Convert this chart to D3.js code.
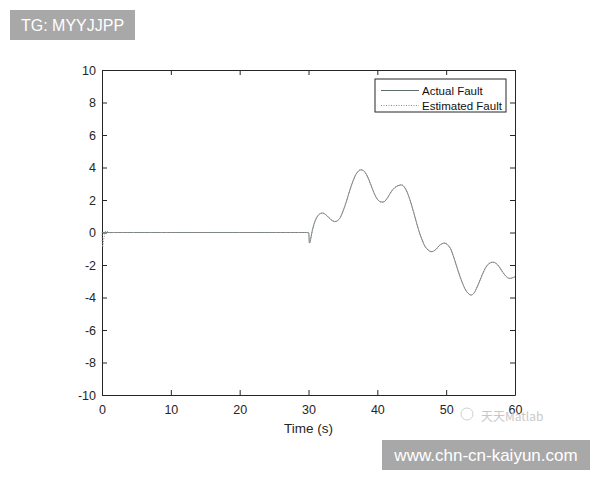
<!DOCTYPE html>
<html><head><meta charset="utf-8">
<script src="https://cdn.jsdelivr.net/npm/d3@7"></script>
<style>body{margin:0;background:#fff;}svg{display:block;font-family:"Liberation Sans",Arial,sans-serif;}</style>
</head><body>
<script>
// Data
const actualTime  = [0, 10, 20, 29.9, 30, 30.15, 30.6, 31, 31.5, 32, 32.5, 33, 33.5, 34, 34.5, 35, 35.5, 36, 36.5, 37, 37.5, 38, 38.5, 39, 39.5, 40, 40.5, 41, 41.5, 42, 42.5, 43, 43.6, 44, 44.5, 45, 45.5, 46, 46.5, 47, 47.8, 48.5, 49, 49.8, 50.5, 51, 51.5, 52, 52.5, 53, 53.6, 54, 54.5, 55, 55.5, 56, 56.5, 57, 57.5, 58, 58.5, 59, 59.4, 60];
const actualValue = [0, 0, 0, 0, 0, -0.65, 0.2, 0.75, 1.1, 1.2, 1.1, 0.9, 0.72, 0.68, 0.85, 1.3, 1.9, 2.6, 3.2, 3.65, 3.85, 3.8, 3.5, 3.0, 2.45, 2.05, 1.88, 1.9, 2.15, 2.5, 2.75, 2.88, 2.92, 2.75, 2.3, 1.65, 0.9, 0.15, -0.45, -0.9, -1.18, -1.05, -0.8, -0.65, -0.9, -1.4, -2.05, -2.7, -3.25, -3.65, -3.85, -3.75, -3.35, -2.85, -2.35, -2.0, -1.85, -1.84, -2.0, -2.3, -2.6, -2.8, -2.82, -2.72];
const estTime  = [0, 0.1, 0.3, 0.6, 1, 2, 10, 20, 29.9].concat(actualTime.slice(4));
const estValue = [0, -0.9, -0.3, 0.1, 0, 0, 0, 0, 0].concat(actualValue.slice(4));
const xTicks = [0, 10, 20, 30, 40, 50, 60];
const yTicks = [-10, -8, -6, -4, -2, 0, 2, 4, 6, 8, 10];
const seriesNames = ["Actual Fault", "Estimated Fault"];

const W = 600, H = 480;
const svg = d3.select("body").append("svg").attr("width", W).attr("height", H);
const m = {left: 102, top: 70, right: 515, bottom: 395};
const x = d3.scaleLinear().domain([0, 60]).range([m.left, m.right]);
const y = d3.scaleLinear().domain([-10, 10]).range([m.bottom, m.top]);

const axCol = "#262626";
const tk = 5;
const fmt = d => String(d);
function styleAxis(g){
  g.select(".domain").attr("stroke", axCol).attr("stroke-width", 1);
  g.selectAll(".tick line").attr("stroke", axCol);
  g.selectAll(".tick text").attr("fill", axCol).attr("font-size", 12.5);
}
// bottom
svg.append("g").attr("transform", `translate(0,${m.bottom})`)
  .call(d3.axisBottom(x).tickValues(xTicks).tickSizeInner(-tk).tickSizeOuter(0).tickPadding(10).tickFormat(fmt))
  .call(styleAxis).call(g=>g.selectAll(".tick text").attr("dy","0.71em"));
// top
svg.append("g").attr("transform", `translate(0,${m.top})`)
  .call(d3.axisTop(x).tickValues(xTicks).tickSizeInner(-tk).tickSizeOuter(0).tickFormat(""))
  .call(styleAxis);
// left
svg.append("g").attr("transform", `translate(${m.left},0)`)
  .call(d3.axisLeft(y).tickValues(yTicks).tickSizeInner(-tk).tickSizeOuter(0).tickPadding(6).tickFormat(fmt))
  .call(styleAxis);
// right
svg.append("g").attr("transform", `translate(${m.right},0)`)
  .call(d3.axisRight(y).tickValues(yTicks).tickSizeInner(-tk).tickSizeOuter(0).tickFormat(""))
  .call(styleAxis);

// lines
const line = d3.line().x(d=>x(d[0])).y(d=>y(d[1])).curve(d3.curveCatmullRom.alpha(0.5));
const actual = actualTime.map((t,i)=>[t, actualValue[i]]);
const est = estTime.map((t,i)=>[t, estValue[i]]);
svg.append("path").datum(actual).attr("d", line).attr("fill","none").attr("stroke","#7a8484").attr("stroke-width",1);
svg.append("path").datum(est).attr("d", line).attr("fill","none").attr("stroke","#8c8c8c").attr("stroke-width",1).attr("stroke-dasharray","1,1.5");

// axis label
svg.append("text").attr("x", (m.left+m.right)/2).attr("y", 433).attr("text-anchor","middle")
  .attr("font-size", 13.5).attr("fill", axCol).text("Time (s)");

// legend
const lg = svg.append("g");
lg.append("rect").attr("x",375).attr("y",79).attr("width",131).attr("height",33).attr("fill","#fff").attr("stroke",axCol).attr("stroke-width",1);
const lgY = [90.5, 105.5];
lg.append("line").attr("x1",381).attr("x2",419).attr("y1",lgY[0]).attr("y2",lgY[0]).attr("stroke","#5f6b6b").attr("stroke-width",1.1);
lg.append("line").attr("x1",381).attr("x2",419).attr("y1",lgY[1]).attr("y2",lgY[1]).attr("stroke","#8a8a8a").attr("stroke-width",1).attr("stroke-dasharray","1,1.5");
seriesNames.forEach((n,i)=>{
  lg.append("text").attr("x",422).attr("y",lgY[i]+4).attr("font-size",11.5).attr("fill","#111").text(n);
});

// watermarks
svg.append("rect").attr("x",10).attr("y",10).attr("width",125).attr("height",30).attr("fill","#a8a8a8");
svg.append("text").attr("x",72.5).attr("y",31).attr("text-anchor","middle").attr("font-size",16).attr("fill","#fff").text("TG: MYYJJPP");
svg.append("text").attr("x",481).attr("y",421).attr("font-size",12).attr("fill","#c8c8c8").attr("font-family","Noto Sans CJK SC, sans-serif").text("天天Matlab");
svg.append("circle").attr("cx",467).attr("cy",414).attr("r",6).attr("fill","none").attr("stroke","#d0d0d0").attr("stroke-width",1);
svg.append("rect").attr("x",382).attr("y",440).attr("width",208).attr("height",30).attr("fill","#a8a8a8");
svg.append("text").attr("x",486).attr("y",461).attr("text-anchor","middle").attr("font-size",17).attr("fill","#fff").text("www.chn-cn-kaiyun.com");
</script>
</body></html>
